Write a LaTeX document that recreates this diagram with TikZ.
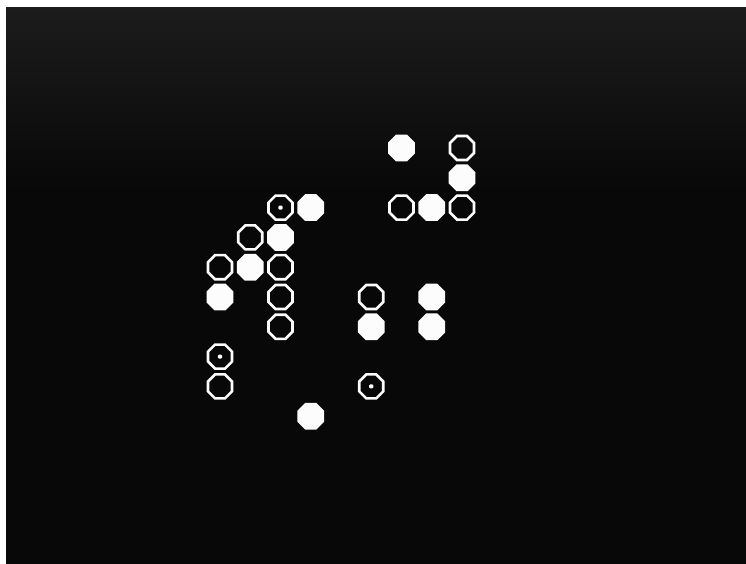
\documentclass[tikz,border=0pt]{standalone}
\usepackage{tikz}
\usetikzlibrary{shapes.geometric}

\definecolor{screentop}{RGB}{28, 28, 28}
\definecolor{screenbot}{RGB}{8, 8, 8}
\definecolor{phosphor}{RGB}{252, 252, 252}

\begin{document}
\begin{tikzpicture}[
        x=1pt, y=1pt,
        cell/.style={regular polygon, regular polygon sides=8, inner sep=0pt, outer sep=0pt},
        stonefill/.style={cell, fill=phosphor, minimum size=29pt},
        stoneopen/.style={cell, draw=phosphor, line width=2.6pt, minimum size=26pt},
        centredot/.style={cell, fill=phosphor, minimum size=4.5pt}
    ]
    % screen and frame
    \fill[white] (0,0) rectangle (746,-564);
    \fill[screenbot] (6,-8) rectangle (746,-564);
    \shade[top color=screentop, bottom color=screenbot] (6,-8) rectangle (746,-190);
    \useasboundingbox (0,0) rectangle (746,-564);

    % filled stones
    \foreach \c/\r in {6/0, 8/1, 7/2, 3/2, 2/3, 1/4, 0/5, 7/5, 5/6, 7/6, 3/9}
        \node[stonefill] (f-\c-\r) at ({220+30.25*\c}, {-148-29.8*\r}) {};

    % open stones
    \foreach \c/\r in {8/0, 6/2, 8/2, 1/3, 0/4, 2/4, 2/5, 2/6, 5/5, 0/8}
        \node[stoneopen] (o-\c-\r) at ({220+30.25*\c}, {-148-29.8*\r}) {};

    % open stones with a centre dot
    \foreach \c/\r in {2/2, 0/7, 5/8} {
        \node[stoneopen] (d-\c-\r) at ({220+30.25*\c}, {-148-29.8*\r}) {};
        \node[centredot] (dc-\c-\r) at (d-\c-\r.center) {};
    }
\end{tikzpicture}
\end{document}
